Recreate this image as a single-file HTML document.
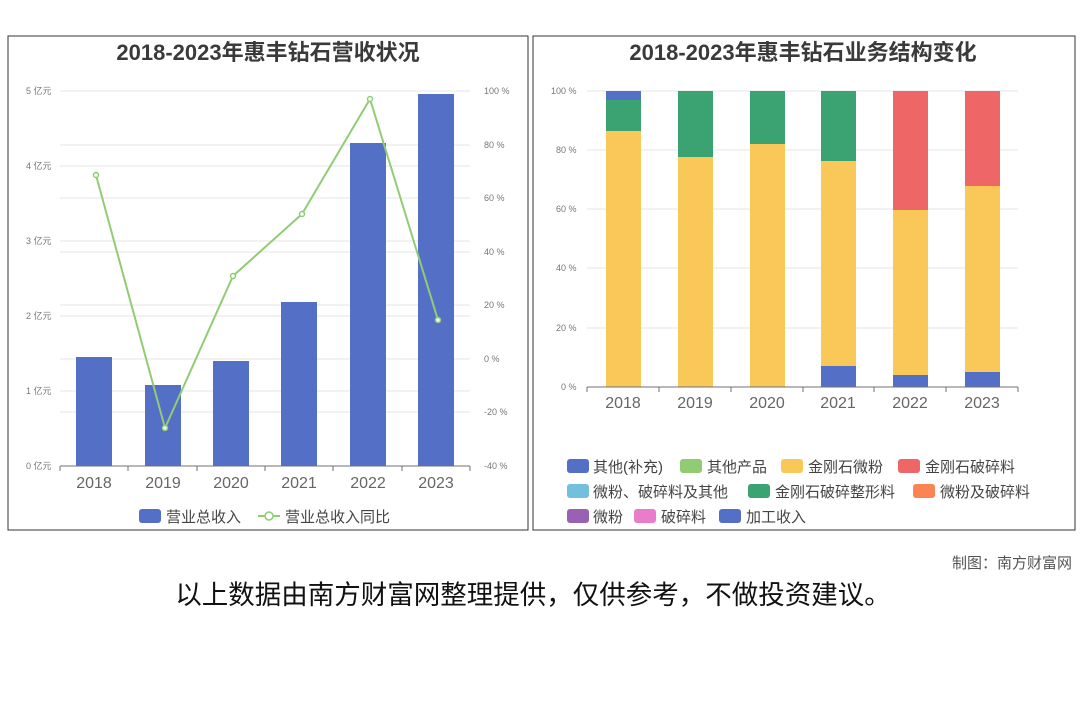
<!DOCTYPE html>
<html><head><meta charset="utf-8"><style>
body{margin:0;width:1080px;height:720px;background:#fff;overflow:hidden;font-family:"Liberation Sans","Noto Sans CJK SC",sans-serif;}
</style></head><body>
<svg width="1080" height="720" xmlns="http://www.w3.org/2000/svg" font-family="Liberation Sans, Noto Sans CJK SC, sans-serif">
<rect x="8" y="36" width="520" height="494" fill="#fff" stroke="#333" stroke-width="1"/>
<rect x="533" y="36" width="542" height="494" fill="#fff" stroke="#333" stroke-width="1"/>
<text x="268" y="60" text-anchor="middle" font-size="22" font-weight="bold" fill="#3a3a3a">2018-2023年惠丰钻石营收状况</text>
<text x="803" y="60" text-anchor="middle" font-size="22" font-weight="bold" fill="#3a3a3a">2018-2023年惠丰钻石业务结构变化</text>
<g stroke="#e6e6e6" stroke-width="1">
<line x1="60" y1="91" x2="470" y2="91"/><line x1="60" y1="166" x2="470" y2="166"/><line x1="60" y1="241" x2="470" y2="241"/><line x1="60" y1="316" x2="470" y2="316"/><line x1="60" y1="391" x2="470" y2="391"/>
<line x1="60" y1="145" x2="470" y2="145"/><line x1="60" y1="198" x2="470" y2="198"/><line x1="60" y1="252" x2="470" y2="252"/><line x1="60" y1="305" x2="470" y2="305"/><line x1="60" y1="359" x2="470" y2="359"/><line x1="60" y1="412" x2="470" y2="412"/>
</g>
<g font-size="9" fill="#777">
<text x="26" y="94">5 亿元</text><text x="26" y="169">4 亿元</text><text x="26" y="244">3 亿元</text><text x="26" y="319">2 亿元</text><text x="26" y="394">1 亿元</text><text x="26" y="469">0 亿元</text>
<text x="484" y="94">100 %</text><text x="484" y="148">80 %</text><text x="484" y="201">60 %</text><text x="484" y="255">40 %</text><text x="484" y="308">20 %</text><text x="484" y="362">0 %</text><text x="484" y="415">-20 %</text><text x="484" y="469">-40 %</text>
</g>
<g fill="#5470c6">
<rect x="76" y="357" width="36" height="109"/><rect x="145" y="385" width="36" height="81"/><rect x="213" y="361" width="36" height="105"/><rect x="281" y="302" width="36" height="164"/><rect x="350" y="143" width="36" height="323"/><rect x="418" y="94" width="36" height="372"/>
</g>
<line x1="60" y1="466" x2="470" y2="466" stroke="#6e7079"/>
<g stroke="#6e7079"><line x1="60" y1="466" x2="60" y2="471"/><line x1="128" y1="466" x2="128" y2="471"/><line x1="197" y1="466" x2="197" y2="471"/><line x1="265" y1="466" x2="265" y2="471"/><line x1="333" y1="466" x2="333" y2="471"/><line x1="402" y1="466" x2="402" y2="471"/><line x1="470" y1="466" x2="470" y2="471"/></g>
<polyline points="96,175 165,428 233,276 302,214 370,99 438,320" fill="none" stroke="#91cc75" stroke-width="2"/>
<g fill="#fff" stroke="#91cc75" stroke-width="1.5"><circle cx="96" cy="175" r="2.5"/><circle cx="165" cy="428" r="2.5"/><circle cx="233" cy="276" r="2.5"/><circle cx="302" cy="214" r="2.5"/><circle cx="370" cy="99" r="2.5"/><circle cx="438" cy="320" r="2.5"/></g>
<g font-size="16" fill="#666" text-anchor="middle"><text x="94" y="488">2018</text><text x="163" y="488">2019</text><text x="231" y="488">2020</text><text x="299" y="488">2021</text><text x="368" y="488">2022</text><text x="436" y="488">2023</text></g>
<rect x="139" y="509" width="22" height="14" rx="3" fill="#5470c6"/>
<text x="166" y="522" font-size="15" fill="#444">营业总收入</text>
<line x1="258" y1="516" x2="280" y2="516" stroke="#91cc75" stroke-width="2"/><circle cx="269" cy="516" r="4" fill="#fff" stroke="#91cc75" stroke-width="1.5"/>
<text x="285" y="522" font-size="15" fill="#444">营业总收入同比</text>

<g stroke="#e6e6e6"><line x1="587" y1="91" x2="1018" y2="91"/><line x1="587" y1="150" x2="1018" y2="150"/><line x1="587" y1="209" x2="1018" y2="209"/><line x1="587" y1="268" x2="1018" y2="268"/><line x1="587" y1="328" x2="1018" y2="328"/></g>
<g font-size="9" fill="#777"><text x="551" y="94">100 %</text><text x="556" y="153">80 %</text><text x="556" y="212">60 %</text><text x="556" y="271">40 %</text><text x="556" y="331">20 %</text><text x="561" y="390">0 %</text></g>
<rect x="606" y="91" width="35" height="9" fill="#5470c6"/><rect x="606" y="100" width="35" height="31" fill="#3ba272"/><rect x="606" y="131" width="35" height="256" fill="#fac858"/>
<rect x="678" y="91" width="35" height="66" fill="#3ba272"/><rect x="678" y="157" width="35" height="230" fill="#fac858"/>
<rect x="750" y="91" width="35" height="53" fill="#3ba272"/><rect x="750" y="144" width="35" height="243" fill="#fac858"/>
<rect x="821" y="91" width="35" height="70" fill="#3ba272"/><rect x="821" y="161" width="35" height="205" fill="#fac858"/><rect x="821" y="366" width="35" height="21" fill="#5470c6"/>
<rect x="893" y="91" width="35" height="119" fill="#ee6666"/><rect x="893" y="210" width="35" height="165" fill="#fac858"/><rect x="893" y="375" width="35" height="12" fill="#5470c6"/>
<rect x="965" y="91" width="35" height="95" fill="#ee6666"/><rect x="965" y="186" width="35" height="186" fill="#fac858"/><rect x="965" y="372" width="35" height="15" fill="#5470c6"/>
<line x1="587" y1="387" x2="1018" y2="387" stroke="#6e7079"/>
<g stroke="#6e7079"><line x1="587" y1="387" x2="587" y2="392"/><line x1="659" y1="387" x2="659" y2="392"/><line x1="731" y1="387" x2="731" y2="392"/><line x1="803" y1="387" x2="803" y2="392"/><line x1="874" y1="387" x2="874" y2="392"/><line x1="946" y1="387" x2="946" y2="392"/><line x1="1018" y1="387" x2="1018" y2="392"/></g>
<g font-size="16" fill="#666" text-anchor="middle"><text x="623" y="408">2018</text><text x="695" y="408">2019</text><text x="767" y="408">2020</text><text x="838" y="408">2021</text><text x="910" y="408">2022</text><text x="982" y="408">2023</text></g>
<g font-size="15" fill="#444">
<rect x="567" y="459" width="22" height="14" rx="3" fill="#5470c6"/><text x="593" y="472">其他(补充)</text>
<rect x="680" y="459" width="22" height="14" rx="3" fill="#91cc75"/><text x="707" y="472">其他产品</text>
<rect x="781" y="459" width="22" height="14" rx="3" fill="#fac858"/><text x="808" y="472">金刚石微粉</text>
<rect x="898" y="459" width="22" height="14" rx="3" fill="#ee6666"/><text x="925" y="472">金刚石破碎料</text>
<rect x="567" y="484" width="22" height="14" rx="3" fill="#73c0de"/><text x="593" y="497">微粉、破碎料及其他</text>
<rect x="748" y="484" width="22" height="14" rx="3" fill="#3ba272"/><text x="775" y="497">金刚石破碎整形料</text>
<rect x="913" y="484" width="22" height="14" rx="3" fill="#fc8452"/><text x="940" y="497">微粉及破碎料</text>
<rect x="567" y="509" width="22" height="14" rx="3" fill="#9a60b4"/><text x="593" y="522">微粉</text>
<rect x="634" y="509" width="22" height="14" rx="3" fill="#ea7ccc"/><text x="661" y="522">破碎料</text>
<rect x="719" y="509" width="22" height="14" rx="3" fill="#5470c6"/><text x="746" y="522">加工收入</text>
</g>
<text x="1072" y="568" text-anchor="end" font-size="15" fill="#555">制图：南方财富网</text>
<text x="533" y="604" text-anchor="middle" font-size="26.5" fill="#111">以上数据由南方财富网整理提供，仅供参考，不做投资建议。</text>
</svg>
</body></html>
